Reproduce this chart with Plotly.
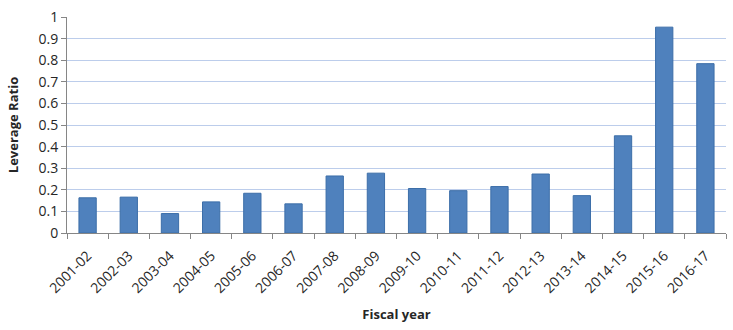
import plotly.graph_objects as go

years = ["2001-02", "2002-03", "2003-04", "2004-05", "2005-06", "2006-07", "2007-08", "2008-09",
         "2009-10", "2010-11", "2011-12", "2012-13", "2013-14", "2014-15", "2015-16", "2016-17"]
leverage = [0.163, 0.166, 0.090, 0.144, 0.184, 0.135, 0.264, 0.277,
            0.206, 0.196, 0.215, 0.273, 0.173, 0.450, 0.953, 0.784]
y_ticks = [0, 0.1, 0.2, 0.3, 0.4, 0.5, 0.6, 0.7, 0.8, 0.9, 1]
y_tick_text = ["0", "0.1", "0.2", "0.3", "0.4", "0.5", "0.6", "0.7", "0.8", "0.9", "1"]

font_family = "Open Sans, Liberation Sans, Arial, sans-serif"

fig = go.Figure(go.Bar(
    x=years, y=leverage,
    marker=dict(color="#4F81BD", line=dict(color="#3C6EA8", width=1)),
    width=0.42,
))

fig.update_layout(
    width=733, height=330,
    margin=dict(l=67, r=7, t=14, b=97),
    paper_bgcolor="white", plot_bgcolor="white",
    showlegend=False,
    font=dict(family=font_family, size=13, color="#262626"),
    xaxis=dict(
        type="category",
        tickangle=-45,
        tickson="boundaries",
        ticks="outside", ticklen=5, tickcolor="#868686",
        ticklabelstandoff=8,
        showline=True, linecolor="#868686", linewidth=1,
        showgrid=False,
        tickfont=dict(size=14),
        title=dict(text="<b>Fiscal year</b>", font=dict(size=13), standoff=14),
    ),
    yaxis=dict(
        range=[0, 1],
        tickvals=y_ticks, ticktext=y_tick_text,
        ticks="outside", ticklen=5, tickcolor="#868686",
        showline=True, linecolor="#868686", linewidth=1,
        showgrid=True, gridcolor="#BCCDEB", gridwidth=1,
        zeroline=False,
        tickfont=dict(size=14),
        title=dict(text="<b>Leverage Ratio</b>", font=dict(size=13), standoff=16),
    ),
)

fig.write_html("out.html")
